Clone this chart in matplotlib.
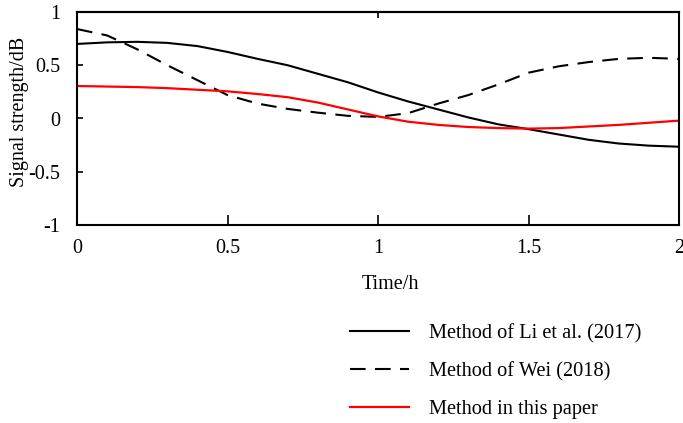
import matplotlib
matplotlib.use("Agg")
import matplotlib.pyplot as plt

plt.rcParams['font.family'] = ['Liberation Serif', 'DejaVu Serif']
plt.rcParams['axes.unicode_minus'] = False

time_h = [0.0, 0.1, 0.2, 0.3, 0.4, 0.5, 0.6, 0.7, 0.8, 0.9, 1.0,
          1.1, 1.2, 1.3, 1.4, 1.5, 1.6, 1.7, 1.8, 1.9, 2.0]
li_2017 = [0.70, 0.715, 0.72, 0.71, 0.68, 0.625, 0.56, 0.50, 0.42, 0.34, 0.245,
           0.16, 0.085, 0.01, -0.055, -0.10, -0.15, -0.20, -0.235, -0.255, -0.265]
wei_2018 = [0.84, 0.78, 0.65, 0.50, 0.36, 0.22, 0.14, 0.09, 0.055, 0.025, 0.015,
            0.05, 0.14, 0.22, 0.32, 0.43, 0.49, 0.53, 0.56, 0.57, 0.56]
this_paper = [0.305, 0.30, 0.295, 0.285, 0.27, 0.255, 0.23, 0.20, 0.15, 0.085, 0.02,
              -0.03, -0.06, -0.08, -0.09, -0.095, -0.09, -0.075, -0.06, -0.04, -0.02]

labels = ["Method of Li et al. (2017)", "Method of Wei (2018)", "Method in this paper"]
xticks = [0, 0.5, 1, 1.5, 2]
xtick_labels = ["0", "0.5", "1", "1.5", "2"]
yticks = [-1, -0.5, 0, 0.5, 1]
ytick_labels = ["-1", "-0.5", "0", "0.5", "1"]

fig = plt.figure(figsize=(6.83, 4.23), dpi=100)
ax = fig.add_axes([77/683, 1 - 225/423, 602/683, 213/423])

ax.plot(time_h, li_2017, color='black', lw=1.5, label=labels[0])
ax.plot(time_h, wei_2018, color='black', lw=1.5, dashes=(7.5, 4.5), label=labels[1])
ax.plot(time_h, this_paper, color='red', lw=1.6, label=labels[2])

ax.set_xlim(0, 2)
ax.set_ylim(-1, 1)
ax.set_xticks(xticks)
ax.set_xticklabels(xtick_labels)
ax.set_yticks(yticks)
ax.set_yticklabels(ytick_labels)
ax.tick_params(axis='both', direction='in', labelsize=14.5, width=1.2)
ax.tick_params(axis='x', length=7, pad=10)
ax.tick_params(axis='y', length=4, pad=12)
for s in ax.spines.values():
    s.set_linewidth(1.5)

sec = ax.secondary_xaxis('top')
sec.set_xticks([1])
sec.tick_params(direction='in', length=4, width=1.2, labeltop=False)
sec.spines['top'].set_linewidth(1.5)

ax.set_xlabel("Time/h", fontsize=14.5)
ax.set_ylabel("Signal strength/dB", fontsize=14.5)
ax.xaxis.set_label_coords(0.52, -0.235)
ax.yaxis.set_label_coords(-0.08, 0.53)

fig.legend(loc='upper left', bbox_to_anchor=(350/683, 1 - 324/423), frameon=False,
           fontsize=14.7, handlelength=2.9, handletextpad=0.95, labelspacing=0.9,
           borderpad=0, borderaxespad=0)

fig.savefig("out.png", dpi=100)
